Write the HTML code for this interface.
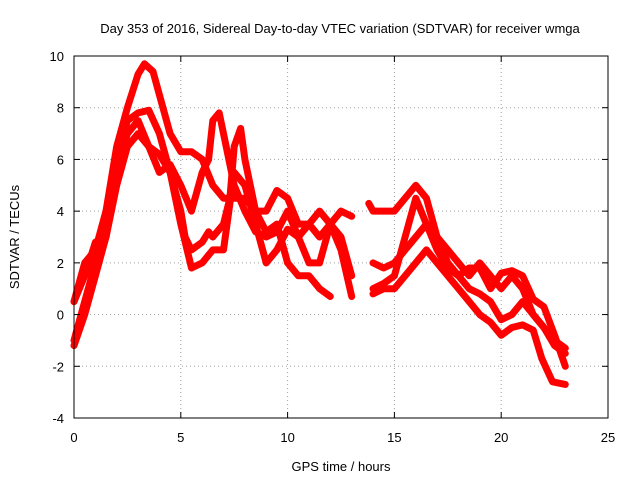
<!DOCTYPE html>
<html><head><meta charset="utf-8"><style>
body{margin:0;background:#fff}
svg{display:block;font-family:"Liberation Sans",sans-serif;font-size:13px}
</style></head><body>
<svg id="chart" width="640" height="480">
<text x="340" y="33" text-anchor="middle">Day 353 of 2016, Sidereal Day-to-day VTEC variation (SDTVAR) for receiver wmga</text>
<text x="341" y="471" text-anchor="middle">GPS time / hours</text>
<text transform="translate(19,237) rotate(-90)" text-anchor="middle">SDTVAR / TECUs</text>
<g id="grid"></g><g id="series"></g>
<rect x="74" y="56" width="534" height="362" fill="none" stroke="#000"/>
<g id="ticks"></g>
</svg>
<script>
const xTicks=[0,5,10,15,20,25];
const yTicks=[-4,-2,0,2,4,6,8,10];
const seriesA=[[0,0.5],[0.5,2],[1,2.5],[1.5,4],[2,6.5],[2.5,8],[3,9.3],[3.3,9.7],[3.7,9.4],[4,8.5],[4.5,7],[5,6.3],[5.5,6.3],[6,6],[6.5,5],[7,4.5],[7.5,4.5],[8,4.5],[8.5,4],[9,4],[9.5,4.8],[10,4.5],[10.5,3.5],[11,3.5],[11.5,3],[12,3.5],[12.5,4],[13,3.8],null,[13.8,4.3],[14,4],[14.5,4],[15,4],[15.5,4.5],[16,5],[16.5,4.5],[17,3],[17.5,2],[18,1.5],[18.5,1],[19,0.8],[19.5,0.5],[20,-0.2],[20.5,0],[21,0.5],[21.5,0],[22,-0.5],[22.5,-1],[23,-1.3]];
const seriesB=[[0,-1],[0.5,0.5],[1,2],[1.5,3.5],[2,6],[2.5,7.5],[3,7.8],[3.5,7.9],[4,7],[4.5,5.5],[5,4],[5.2,3],[5.5,2.5],[6,2.8],[6.3,3.2],[6.5,3],[7,3.5],[7.3,4.5],[7.5,6.5],[7.8,7.2],[8,6],[8.5,4],[9,3.2],[9.5,3.5],[10,2],[10.5,1.5],[11,1.5],[11.5,1],[12,0.7],null,[14,1],[14.5,1.2],[15,1.5],[15.5,3],[16,4.5],[16.5,3.5],[17,2.5],[17.5,1.8],[18,1.5],[18.5,1.8],[19,1.8],[19.5,1],[20,1.6],[20.5,1.7],[21,1.5],[21.5,0.6],[22,0.3],[22.5,-0.8],[23,-2]];
const seriesC=[[0,-1.2],[0.5,0],[1,1.5],[1.5,3],[2,5],[2.5,6.5],[3,7],[3.5,6.5],[4,6.2],[4.5,5.5],[5,3.5],[5.5,1.8],[6,2],[6.5,2.5],[7,2.5],[7.5,5.5],[8,5],[8.5,3.5],[9,2],[9.5,2.5],[10,3.3],[10.5,3],[11,2],[11.5,2],[12,3.5],[12.5,2.5],[13,0.7],null,[14,0.8],[14.5,1],[15,1],[15.5,1.5],[16,2],[16.5,2.5],[17,2],[17.5,1.5],[18,1],[18.5,0.5],[19,0],[19.5,-0.3],[20,-0.8],[20.5,-0.5],[21,-0.4],[21.5,-0.6],[21.9,-1.7],[22.4,-2.6],[23,-2.7]];
const seriesD=[[0,0.5],[0.5,1.5],[1,2.8],[1.5,3],[2,5.5],[2.5,7],[3,7.5],[3.5,6.5],[4,5.5],[4.5,5.8],[5,5],[5.5,4],[6,5.5],[6.3,6],[6.5,7.5],[6.8,7.8],[7,7],[7.5,5],[8,4],[8.5,3.2],[9,3],[9.5,3.2],[10,4],[10.5,3],[11,3.5],[11.5,4],[12,3.5],[12.5,3],[13,1.5],null,[14,2],[14.5,1.8],[15,2],[15.5,2.5],[16,3],[16.5,3.5],[17,3],[17.5,2.5],[18,2],[18.5,1.5],[19,2],[19.5,1.5],[20,1],[20.5,1.5],[21,1],[21.5,0],[22,-0.5],[22.5,-1.2],[23,-1.5]];
const allSeries=[seriesA,seriesB,seriesC,seriesD];
const NS="http://www.w3.org/2000/svg";
const L=74,R=608,T=56,B=418;
const xs=v=>L+(v-0)/(25-0)*(R-L);
const ys=v=>B-(v+4)/(10+4)*(B-T);
const grid=document.getElementById('grid'),ticks=document.getElementById('ticks'),ser=document.getElementById('series');
function mk(tag,attrs,parent){const e=document.createElementNS(NS,tag);for(const k in attrs)e.setAttribute(k,attrs[k]);parent.appendChild(e);return e;}
xTicks.forEach(t=>{
  const x=xs(t);
  if(t>0&&t<25){const g=mk('line',{x1:x,x2:x,y1:T,y2:B,stroke:'#a0a0a0','stroke-dasharray':'1,3'},grid);
  
  }
  mk('line',{x1:x,x2:x,y1:B,y2:B-6,stroke:'#000'},ticks);
  mk('line',{x1:x,x2:x,y1:T,y2:T+6,stroke:'#000'},ticks);
  const tx=mk('text',{x:x,y:B+24,'text-anchor':'middle'},ticks);tx.textContent=t;
  
  
});
yTicks.forEach(t=>{
  const y=ys(t);
  if(t>-4&&t<10){const g=mk('line',{x1:L,x2:R,y1:y,y2:y,stroke:'#a0a0a0','stroke-dasharray':'1,3'},grid);
  
  }
  mk('line',{x1:L,x2:L+6,y1:y,y2:y,stroke:'#000'},ticks);
  mk('line',{x1:R,x2:R-6,y1:y,y2:y,stroke:'#000'},ticks);
  const tx=mk('text',{x:L-10,y:y+5,'text-anchor':'end'},ticks);tx.textContent=t;
  
  
});
allSeries.forEach((s,i)=>{
  let d='',start=true;
  s.forEach(p=>{if(p===null){start=true;return;}d+=(start?'M':'L')+xs(p[0]).toFixed(1)+','+ys(p[1]).toFixed(1);start=false;});
  const path=mk('path',{d:d,fill:'none',stroke:'#f00','stroke-width':7,'stroke-linejoin':'round','stroke-linecap':'round'},ser);
  
  
});
</script>
</body></html>
